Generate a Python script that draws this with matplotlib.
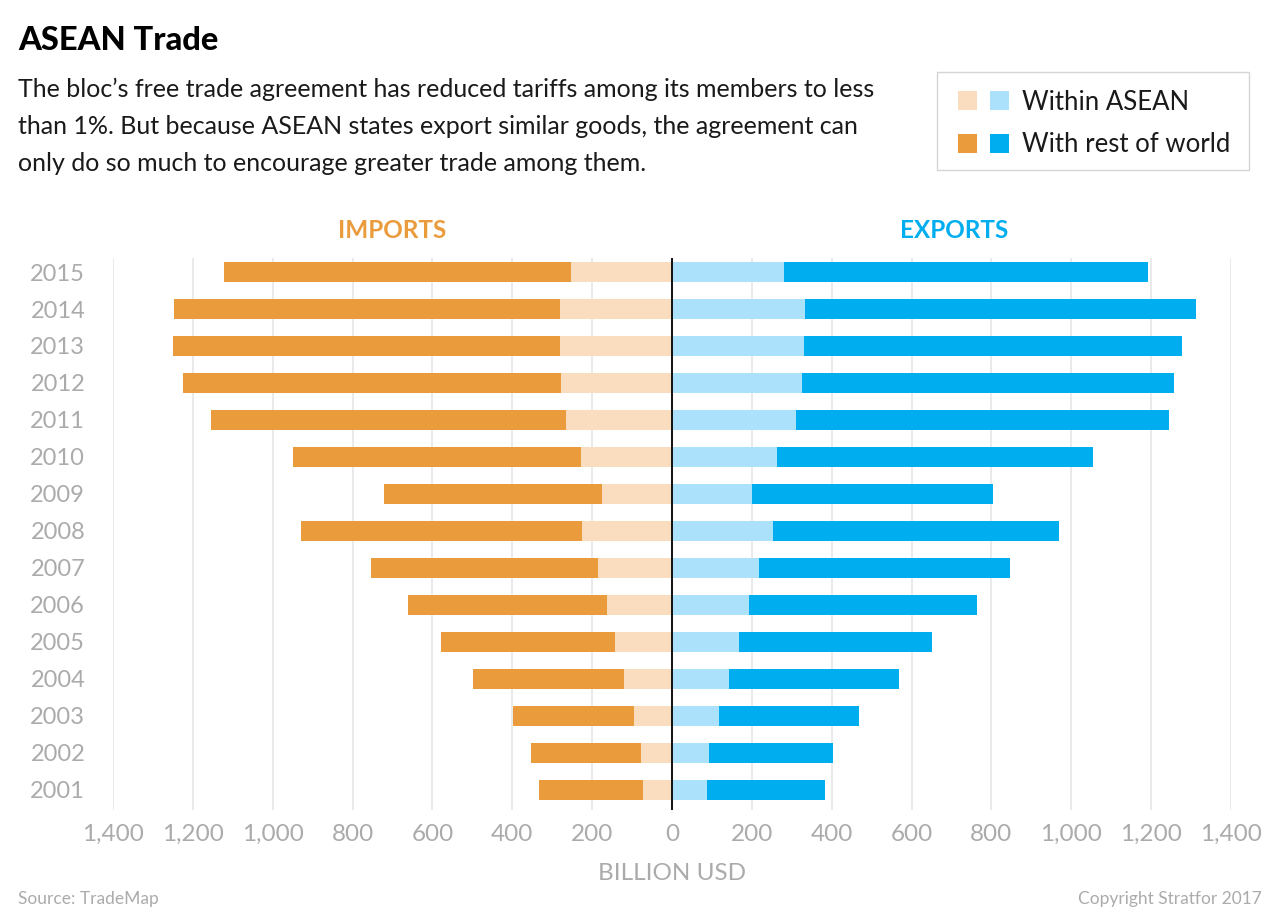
import matplotlib
matplotlib.use("Agg")
import matplotlib.pyplot as plt
import numpy as np
from matplotlib.ticker import FuncFormatter, FixedLocator
from matplotlib.patches import Rectangle

years = [2001, 2002, 2003, 2004, 2005, 2006, 2007, 2008, 2009, 2010, 2011, 2012, 2013, 2014, 2015]
imports_within = [73, 78, 95, 120, 143, 163, 185, 225, 175, 228, 265, 278, 280, 280, 253]
imports_total = [333, 353, 398, 498, 579, 661, 754, 929, 721, 949, 1155, 1225, 1250, 1247, 1122]
exports_within = [88, 93, 118, 143, 168, 193, 218, 253, 200, 263, 311, 326, 331, 333, 280]
exports_total = [383, 403, 468, 568, 651, 764, 846, 969, 804, 1054, 1245, 1257, 1277, 1312, 1192]
ticks = [-1400, -1200, -1000, -800, -600, -400, -200, 0, 200, 400, 600, 800, 1000, 1200, 1400]

C_IMP_LIGHT = "#F9DDBE"
C_IMP = "#EA9C3C"
C_EXP_LIGHT = "#ABE1FA"
C_EXP = "#00AEEF"
GREY = "#ABABAB"
FONT = "Lato"

plt.rcParams['font.family'] = [FONT, 'DejaVu Sans']

W, H = 1280, 917
fig = plt.figure(figsize=(W / 100, H / 100), dpi=100)

def fx(px):
    return px / W

def fy(py):
    return 1 - py / H

ax = fig.add_axes([fx(113), fy(810), fx(1231) - fx(113), fy(258) - fy(810)])

y = np.arange(len(years))
iw = np.array(imports_within)
it = np.array(imports_total)
ew = np.array(exports_within)
et = np.array(exports_total)
bh = 0.54

ax.barh(y, -iw, height=bh, color=C_IMP_LIGHT, zorder=3)
ax.barh(y, -(it - iw), left=-iw, height=bh, color=C_IMP, zorder=3)
ax.barh(y, ew, height=bh, color=C_EXP_LIGHT, zorder=3)
ax.barh(y, et - ew, left=ew, height=bh, color=C_EXP, zorder=3)

ax.set_xlim(-1400, 1400)
ax.set_ylim(-0.55, 14.38)
ax.xaxis.set_major_locator(FixedLocator(ticks))
ax.xaxis.set_major_formatter(FuncFormatter(lambda v, p: f"{abs(int(v)):,}"))
ax.set_yticks(y)
ax.set_yticklabels([str(v) for v in years])
ax.grid(axis='x', color="#E6E6E6", linewidth=1.2, zorder=0)
ax.axvline(0, color="black", linewidth=1.3, zorder=4)
for s in ax.spines.values():
    s.set_visible(False)
ax.tick_params(axis='both', length=0, colors=GREY, labelsize=17.5)
ax.tick_params(axis='y', labelsize=17)
ax.tick_params(axis='x', pad=10)
ax.tick_params(axis='y', pad=20)
for lab in ax.get_xticklabels() + ax.get_yticklabels():
    lab.set_color(GREY)
ax.set_xlabel("BILLION USD", color=GREY, fontsize=17.5, labelpad=13)

# headers
fig.text(fx(18), fy(41), "ASEAN Trade", fontsize=23.5, fontweight='black', va='center', ha='left', color='black')
sub = ("The bloc\u2019s free trade agreement has reduced tariffs among its members to less\n"
       "than 1%. But because ASEAN states export similar goods, the agreement can\n"
       "only do so much to encourage greater trade among them.")
fig.text(fx(18), fy(78), sub, fontsize=18, va='top', ha='left',
         color='#1a1a1a', linespacing=1.72)

fig.text(fx(392), fy(230), "IMPORTS", fontsize=17.5, fontweight='bold', color=C_IMP, ha='center', va='center')
fig.text(fx(954), fy(230), "EXPORTS", fontsize=17.5, fontweight='bold', color=C_EXP, ha='center', va='center')

# legend box
fig.patches.append(Rectangle((fx(937), fy(170)), fx(1249) - fx(937), fy(72) - fy(170),
                             transform=fig.transFigure, facecolor='white', edgecolor='#D5D5D5', linewidth=1))
sq = 19
for (cx, col) in [(958, C_IMP_LIGHT), (990, C_EXP_LIGHT)]:
    fig.patches.append(Rectangle((fx(cx), fy(110)), fx(sq), sq / H, transform=fig.transFigure, facecolor=col, edgecolor='none'))
for (cx, col) in [(958, C_IMP), (990, C_EXP)]:
    fig.patches.append(Rectangle((fx(cx), fy(153)), fx(sq), sq / H, transform=fig.transFigure, facecolor=col, edgecolor='none'))
fig.text(fx(1022), fy(102), "Within ASEAN", fontsize=18.5, va='center', ha='left', color='#1a1a1a')
fig.text(fx(1022), fy(145), "With rest of world", fontsize=18.5, va='center', ha='left', color='#1a1a1a')

fig.text(fx(18), fy(899), "Source: TradeMap", fontsize=12.5, color=GREY, va='center', ha='left')
fig.text(fx(1262), fy(899), "Copyright Stratfor 2017", fontsize=12.5, color=GREY, va='center', ha='right')

fig.savefig("out.png", dpi=100, facecolor='white')
